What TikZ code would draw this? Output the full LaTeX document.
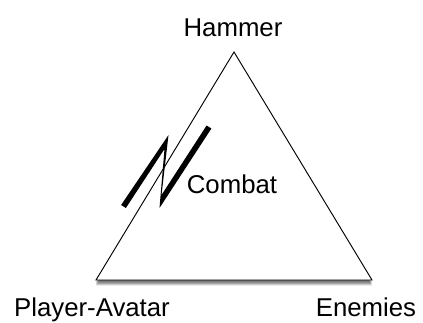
\documentclass[tikz,border=0pt]{standalone}
\usepackage{fontspec}
\setmainfont{Liberation Sans}
\begin{document}
\begin{tikzpicture}[x=0.03cm, y=-0.03cm,
  every node/.style={font=\fontsize{22}{26}\selectfont, inner sep=0pt, anchor=base},
  tri/.style={draw=black, line width=0.8pt, fill=white, line join=miter},
  shade/.style={fill=black, opacity=0.11},
  bolt/.style={fill=black}]
  \useasboundingbox (0,0) rectangle (423,322);
  \coordinate (apex) at (234,52);
  \coordinate (lc) at (96,280);
  \coordinate (rc) at (372,280);
  % soft shadow under the triangle
  \foreach \d in {1,...,8}
    \fill[shade] ([yshift=-\d*0.6pt]apex) -- ([yshift=-\d*0.6pt]lc) -- ([yshift=-\d*0.6pt]rc) -- cycle;
  \draw[tri] (apex) -- (lc) -- (rc) -- cycle;
  % lightning
  \fill[bolt] (121.1,205.0) -- (168.5,135) -- (161.5,195) -- (206.6,125.5) -- (211.4,128.5)
    -- (159.5,208) -- (164.5,149) -- (125.9,208.0) -- cycle;
  \node (hammer) at (233,36) {Hammer};
  \node (combat) at (232,193) {Combat};
  \node (player) at (92,316) {Player-Avatar};
  \node (enemies) at (366,316) {Enemies};
\end{tikzpicture}
\end{document}
